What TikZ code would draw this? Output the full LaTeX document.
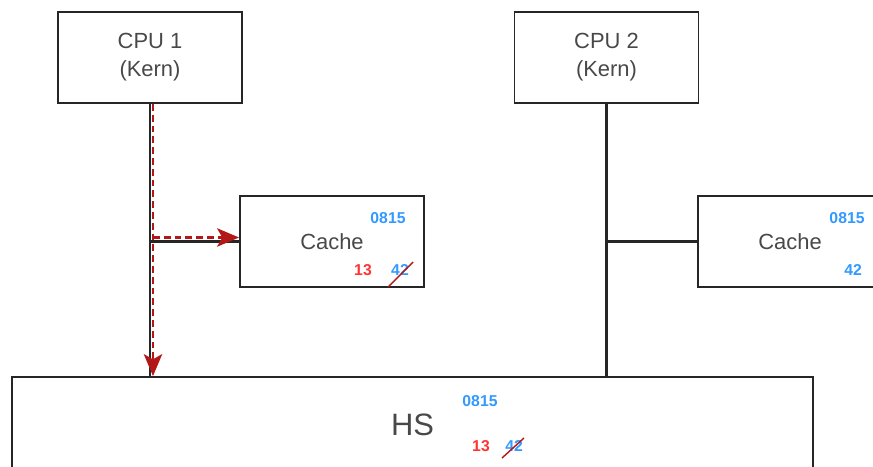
\documentclass[tikz,border=0pt]{standalone}
\usepackage{fontspec}
\setmainfont{Liberation Sans}
\usepackage{xcolor}
\usetikzlibrary{shapes,arrows,positioning,calc,arrows.meta}
\definecolor{textgrey}{RGB}{72,72,72}
\definecolor{numblue}{RGB}{51,153,255}
\definecolor{numred}{RGB}{255,51,51}
\definecolor{flowred}{RGB}{178,24,24}

\begin{document}
\begin{tikzpicture}[
    unit/.style={draw=black!85, line width=1.3pt, rectangle, minimum width=4.6cm, minimum height=2.275cm, text=textgrey, align=center, font=\fontsize{15.6}{19.9}\selectfont},
    numb/.style={text=numblue, inner sep=0pt, font=\fontsize{11.2}{13}\selectfont\bfseries},
    numr/.style={text=numred, inner sep=0pt, font=\fontsize{11.2}{13}\selectfont\bfseries},
    bus/.style={draw=black!85, line width=1.6pt},
    flow/.style={draw=flowred, line width=1.6pt, dash pattern=on 0.17cm off 0.1cm, -{Stealth[length=0.55cm, width=0.46cm, inset=0.13cm]}},
    strike/.style={draw=flowred, line width=1pt}]
    \clip (0, 0) rectangle (21.825, 11.65);

    % CPUs
    \node[unit] (cpu1) at (3.75, 10.2125) {CPU 1\\(Kern)};
    \node[unit] (cpu2) at (15.1625, 10.2125) {CPU 2\\(Kern)};

    % Caches
    \node[unit] (cache1) at (8.3, 5.6125) {Cache};
    \node[unit] (cache2) at (19.75, 5.6125) {Cache};

    % Hauptspeicher
    \node[unit, minimum width=20.025cm, minimum height=2.375cm, font=\fontsize{22}{26}\selectfont] (hs) at (10.3125, 1.0375) {HS};

    % Values
    \node[numb] (c1new) at (9.7, 6.2) {0815};
    \node[numr] (c1red) at (9.075, 4.9) {13};
    \node[numb] (c1old) at (10.0, 4.9) {42};
    \node[numb] (c2new) at (21.175, 6.2) {0815};
    \node[numb] (c2old) at (21.325, 4.9) {42};
    \node[numb] (hsnew) at (12.0, 1.625) {0815};
    \node[numr] (hsred) at (12.025, 0.5) {13};
    \node[numb] (hsold) at (12.85, 0.5) {42};
    \draw[strike] ([shift={(-0.3,-0.425)}]c1old.center) -- ([shift={(0.325,0.2)}]c1old.center);
    \draw[strike] ([shift={(-0.3,-0.3)}]hsold.center) -- ([shift={(0.25,0.2)}]hsold.center);

    % Connections
    \draw[bus] (cpu1.south) -- (cpu1.south |- hs.north);
    \draw[bus] (cpu1.south |- cache1.west) -- (cache1.west);
    \draw[bus] (cpu2.south) -- (cpu2.south |- hs.north);
    \draw[bus] (cpu2.south |- cache2.west) -- (cache2.west);

    % Write path
    \draw[flow] ([xshift=0.075cm]cpu1.south) -- ([xshift=0.075cm]cpu1.south |- hs.north);
    \draw[flow] ([xshift=0.075cm, yshift=0.1cm]cpu1.south |- cache1.west) -- ([yshift=0.1cm]cache1.west);

\end{tikzpicture}
\end{document}
